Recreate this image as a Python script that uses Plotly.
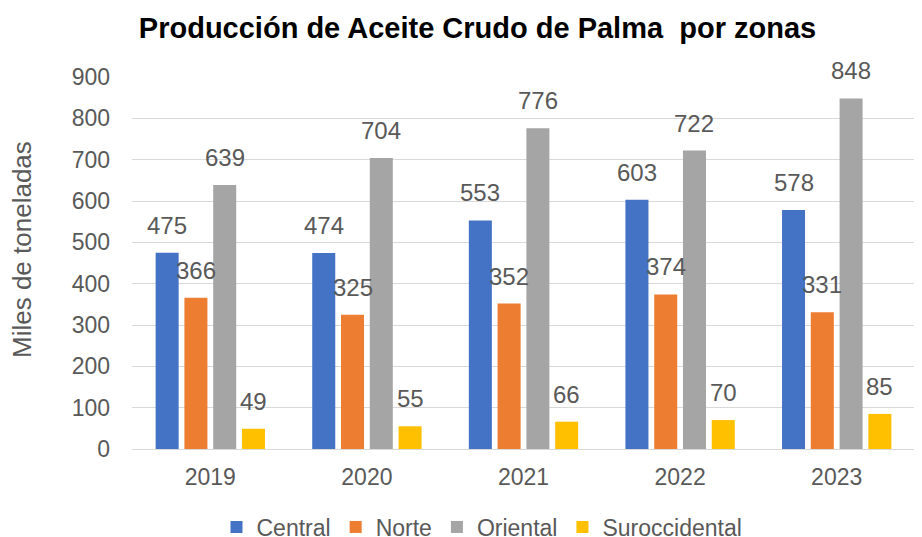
import plotly.graph_objects as go

years = ["2019", "2020", "2021", "2022", "2023"]
central = [475, 474, 553, 603, 578]
norte = [366, 325, 352, 374, 331]
oriental = [639, 704, 776, 722, 848]
suroccidental = [49, 55, 66, 70, 85]

series = [
    ("Central", central, "#4472C4"),
    ("Norte", norte, "#ED7D31"),
    ("Oriental", oriental, "#A5A5A5"),
    ("Suroccidental", suroccidental, "#FFC000"),
]

# page has an 8px body margin, so the figure is sized/positioned to compensate
OFF = 8
W, H = 922 - OFF, 537 - OFF
ML, MR, MT, MB = 132 - OFF, 7, 77 - OFF, 88
BARGAP, GROUPGAP = 0.265, 0.2
FONT = "Liberation Sans, Arial, sans-serif"
GRAY = "#595959"
PLOT_H = H - MT - MB

fig = go.Figure()
for name, vals, color in series:
    fig.add_trace(go.Bar(x=years, y=vals, name=name, marker_color=color,
                         marker_line_width=0))

# data labels above bars, offset to each bar of the group
cat_px = (W - ML - MR) / len(years)
slot = cat_px * (1 - BARGAP) / len(series)
for i, (name, vals, color) in enumerate(series):
    off = (i - (len(series) - 1) / 2) * slot
    for k, v in enumerate(vals):
        fig.add_annotation(x=k, y=v, text=str(v), showarrow=False,
                           xanchor="center", yanchor="bottom", xshift=off, yshift=12,
                           font=dict(size=24, color=GRAY, family=FONT))

fig.add_annotation(text="Miles de toneladas", textangle=-90, showarrow=False,
                   xref="paper", yref="paper",
                   x=(22 - OFF - ML) / (W - ML - MR),
                   y=(H - MB - (249 - OFF)) / PLOT_H,
                   xanchor="center", yanchor="middle",
                   font=dict(size=26, color=GRAY, family=FONT))

fig.update_layout(
    width=W, height=H,
    paper_bgcolor="white", plot_bgcolor="white",
    font=dict(family=FONT, color=GRAY),
    title=dict(text="<b>Producción de Aceite Crudo de Palma  por zonas</b>",
               x=(477.5 - OFF) / W, xanchor="center", xref="container",
               y=1 - (28 - OFF) / H, yanchor="middle", yref="container",
               font=dict(size=29, color="black", family=FONT)),
    margin=dict(l=ML, r=MR, t=MT, b=MB, autoexpand=False),
    barmode="group", bargap=BARGAP, bargroupgap=GROUPGAP,
    legend=dict(orientation="h", x=(482 - OFF) / W, xanchor="center", xref="container",
                y=-((527 - OFF) - (H - MB)) / PLOT_H, yanchor="middle", yref="paper",
                font=dict(size=23, color=GRAY, family=FONT), itemwidth=30,
                traceorder="normal"),
    showlegend=True,
)
fig.update_yaxes(range=[0, 900], dtick=100, showgrid=True, gridcolor="#D9D9D9",
                 gridwidth=1, zeroline=False, automargin=False,
                 tickfont=dict(size=23, color=GRAY, family=FONT),
                 ticks="", ticklabelstandoff=21)
fig.update_xaxes(type="category", range=[-0.5, len(years) - 0.5],
                 showline=True, linecolor="#D9D9D9", automargin=False,
                 tickfont=dict(size=23, color=GRAY, family=FONT),
                 ticks="", ticklabelstandoff=7)

fig.write_html("out.html")
